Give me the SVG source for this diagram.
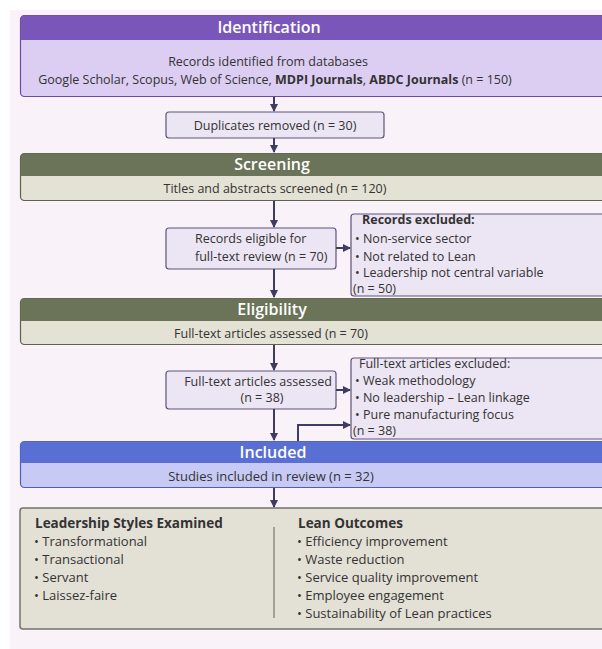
<svg xmlns="http://www.w3.org/2000/svg" width="602" height="649" viewBox="0 0 602 649">
<style>
text{font-family:"Open Sans","Noto Sans","Liberation Sans",sans-serif;fill:#333;}
.hd{font-size:16px;font-weight:600;fill:#fff;text-anchor:middle;}
.c{text-anchor:middle;}
.t{font-size:12.5px;}
.t2{font-size:13px;}
.h2{font-size:13.5px;font-weight:700;}
.b{font-weight:700;}
.box{fill:#ece5f3;stroke:#5e5478;stroke-width:1.2;}
.ln{stroke:#3f3b62;stroke-width:2;fill:none;}
</style>
<defs>
<marker id="ah" markerWidth="8" markerHeight="8" refX="7" refY="4" orient="auto" markerUnits="userSpaceOnUse">
<path d="M0,0 L8,4 L0,8 Z" fill="#3f3b62"/>
</marker>
</defs>
<rect x="0" y="0" width="602" height="649" fill="#ffffff"/>
<rect x="10" y="10" width="600" height="640" fill="#f9f2f8"/>

<g id="identification">
<rect x="20.5" y="15.5" width="600" height="81" rx="4" fill="#dccdf2" stroke="#6a4aa2" stroke-width="1.2"/>
<path d="M20.5,40 V19.5 a4,4 0 0 1 4,-4 H620 V40 Z" fill="#7a56ba"/>
<text class="hd" x="269" y="33">Identification</text>
<text class="t c" x="268" y="66">Records identified from databases</text>
<text class="t c" x="275" y="84">Google Scholar, Scopus, Web of Science, <tspan class="b">MDPI Journals</tspan>,  <tspan class="b">ABDC Journals</tspan> (n = 150)</text>
</g>

<g id="duplicates">
<rect class="box" x="166" y="112" width="218" height="26" rx="3"/>
<text class="t c" x="275" y="130">Duplicates removed (n = 30)</text>
</g>

<g id="screening">
<rect x="20.5" y="153.5" width="600" height="47" rx="4" fill="#e4e2d4" stroke="#5c624b" stroke-width="1.2"/>
<path d="M20.5,176 V157.5 a4,4 0 0 1 4,-4 H620 V176 Z" fill="#6b7359"/>
<text class="hd" x="272" y="170">Screening</text>
<text class="t c" x="275" y="193">Titles and abstracts screened (n = 120)</text>
</g>

<g id="eligible">
<rect class="box" x="166" y="228" width="170" height="41" rx="3"/>
<text class="t" x="195" y="243">Records eligible for</text>
<text class="t" x="195" y="261">full-text review (n = 70)</text>
</g>

<g id="excluded1">
<rect class="box" x="351" y="214" width="260" height="82" rx="3"/>
<text class="t b" x="362" y="224">Records excluded:</text>
<text class="t" x="355" y="243">• Non-service sector</text>
<text class="t" x="355" y="261">• Not related to Lean</text>
<text class="t" x="355" y="277">• Leadership not central variable</text>
<text class="t" x="353" y="293">(n = 50)</text>
</g>

<g id="eligibility">
<rect x="20.5" y="298.5" width="600" height="46" rx="4" fill="#e4e2d4" stroke="#5c624b" stroke-width="1.2"/>
<path d="M20.5,321 V302.5 a4,4 0 0 1 4,-4 H620 V321 Z" fill="#6b7359"/>
<text class="hd" x="272" y="315">Eligibility</text>
<text class="t c" x="271" y="338">Full-text articles assessed (n = 70)</text>
</g>

<g id="assessed">
<rect class="box" x="166" y="371" width="170" height="38" rx="3"/>
<text class="t c" x="258" y="386">Full-text articles assessed</text>
<text class="t c" x="262" y="402">(n = 38)</text>
</g>

<g id="excluded2">
<rect class="box" x="351" y="358" width="260" height="81" rx="3"/>
<text class="t" x="359" y="368">Full-text articles excluded:</text>
<text class="t" x="355" y="385">• Weak methodology</text>
<text class="t" x="355" y="402">• No leadership – Lean linkage</text>
<text class="t" x="355" y="419">• Pure manufacturing focus</text>
<text class="t" x="353" y="435">(n = 38)</text>
</g>

<g id="included">
<rect x="20.5" y="441.5" width="600" height="46" rx="4" fill="#c6caf5" stroke="#4d5fbc" stroke-width="1.2"/>
<path d="M20.5,463 V445.5 a4,4 0 0 1 4,-4 H620 V463 Z" fill="#5a6fd3"/>
<text class="hd" x="273" y="458">Included</text>
<text class="t2 c" x="271" y="481">Studies included in review (n = 32)</text>
</g>

<g id="summary">
<rect x="20" y="508" width="600" height="121" rx="3" fill="#e3e0d6" stroke="#74726a" stroke-width="1.5"/>
<line x1="274" y1="527" x2="274" y2="618" stroke="#77756d" stroke-width="1.2"/>
<text class="h2" x="35" y="528">Leadership Styles Examined</text>
<text class="t2" x="34" y="546">• Transformational</text>
<text class="t2" x="34" y="564">• Transactional</text>
<text class="t2" x="34" y="582">• Servant</text>
<text class="t2" x="34" y="600">• Laissez-faire</text>
<text class="h2" x="298" y="528">Lean Outcomes</text>
<text class="t2" x="297" y="546">• Efficiency improvement</text>
<text class="t2" x="297" y="564">• Waste reduction</text>
<text class="t2" x="297" y="582">• Service quality improvement</text>
<text class="t2" x="297" y="600">• Employee engagement</text>
<text class="t2" x="297" y="618">• Sustainability of Lean practices</text>
</g>

<g id="connectors">
<line class="ln" x1="274" y1="97" x2="274" y2="111" marker-end="url(#ah)"/>
<line class="ln" x1="274" y1="138" x2="274" y2="152" marker-end="url(#ah)"/>
<line class="ln" x1="274" y1="201" x2="274" y2="227" marker-end="url(#ah)"/>
<line class="ln" x1="336" y1="248" x2="350" y2="248" marker-end="url(#ah)"/>
<line class="ln" x1="274" y1="269" x2="274" y2="297" marker-end="url(#ah)"/>
<line class="ln" x1="274" y1="345" x2="274" y2="370" marker-end="url(#ah)"/>
<line class="ln" x1="336" y1="390" x2="350" y2="390" marker-end="url(#ah)"/>
<line class="ln" x1="274" y1="409" x2="274" y2="440" marker-end="url(#ah)"/>
<polyline class="ln" points="298,441 298,425 350,425" marker-end="url(#ah)"/>
<line class="ln" x1="274" y1="488" x2="274" y2="507" marker-end="url(#ah)"/>
</g>
</svg>
